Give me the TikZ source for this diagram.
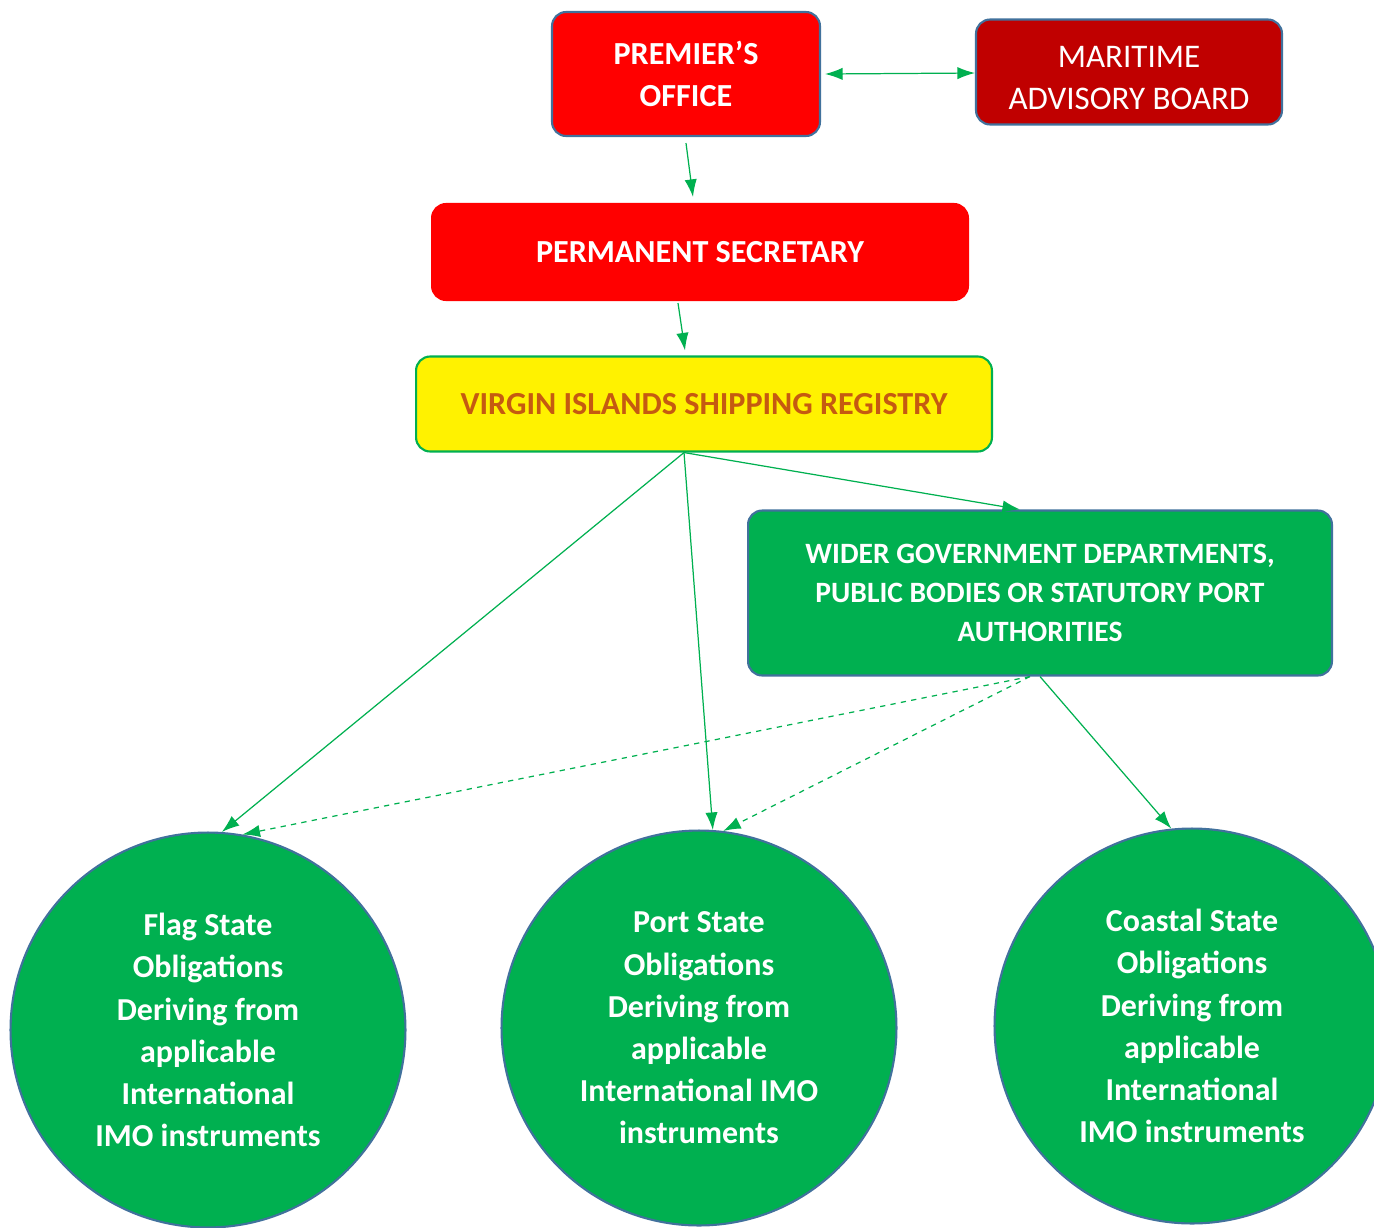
\documentclass[tikz,border=0pt]{standalone}
\usepackage{fontspec}
\setmainfont{Carlito}
\usetikzlibrary{arrows.meta,calc}
\definecolor{boxred}{HTML}{FF0000}
\definecolor{boxdarkred}{HTML}{C00000}
\definecolor{boxgreen}{HTML}{00B050}
\definecolor{edgeblue}{HTML}{41719C}
\definecolor{registrytext}{HTML}{C55A11}

\begin{document}
\begin{tikzpicture}[x=0.02cm,y=-0.02cm,>={Latex[length=10pt,width=7pt]},
  box/.style={rounded corners=8pt,draw=edgeblue,line width=1.2pt,align=center,text=white,
    font=\fontsize{18.3}{24}\selectfont\bfseries},
  obligation/.style={circle,fill=boxgreen,draw=edgeblue,line width=1.2pt,minimum size=7.9cm,
    align=center,text=white,font=\fontsize{18.2}{24}\selectfont\bfseries},
  link/.style={boxgreen,line width=0.7pt}]
  \useasboundingbox (0,0) rectangle (1374,1228);

  % top of the chain
  \node[box,fill=boxred,minimum width=5.36cm,minimum height=2.48cm] (po) at (686,74) {PREMIER’S\\OFFICE};
  \node[box,fill=boxdarkred,minimum width=6.12cm,minimum height=2.1cm,font=\fontsize{18.8}{24}\selectfont] (mab) at (1129,72)
    {\rule{0pt}{19pt}MARITIME\\ADVISORY BOARD};
  \node[box,fill=boxred,draw=boxred,minimum width=10.72cm,minimum height=1.92cm] (ps) at (700,252) {PERMANENT SECRETARY};
  \node[box,fill=yellow,draw=boxgreen,text=registrytext,minimum width=11.52cm,minimum height=1.9cm] (visr) at (704,404) {VIRGIN ISLANDS SHIPPING REGISTRY};
  \node[box,fill=boxgreen,minimum width=11.68cm,minimum height=3.3cm,font=\fontsize{16.8}{22}\selectfont\bfseries] (wider) at (1040,593)
    {WIDER GOVERNMENT DEPARTMENTS,\\PUBLIC BODIES OR STATUTORY PORT\\AUTHORITIES};

  % obligations
  \node[obligation] (flag) at (208,1030) {Flag State\\Obligations\\Deriving from\\applicable\\International\\IMO instruments};
  \node[obligation] (port) at (699,1028) {Port State\\Obligations\\Deriving from\\applicable\\International IMO\\instruments};
  \node[obligation] (coastal) at (1192,1026) {Coastal State\\Obligations\\Deriving from\\applicable\\International\\IMO instruments};

  \coordinate (visr out) at ($(visr.south)+(-20,0)$);
  \coordinate (wider out) at ($(wider.south)+(-10,0)$);

  \draw[link,<->] ($(po.east)+(4,0)$) -- ($(mab.west)+(0,1)$);
  \draw[link,->] ($(po.south)+(0,6)$) -- ($(ps.north)+(-7,-6)$);
  \draw[link,->] ($(ps.south)+(-22,2)$) -- ($(visr.north)+(-19,-5)$);
  \draw[link,->] (visr out) -- (flag.86);
  \draw[link,->] (visr out) -- (port.86);
  \draw[link,->] (visr out) -- ($(wider.north)+(-20,0)$);
  \draw[link,->] (wider.south) -- (coastal.96);
  \foreach \t/\a in {flag/80,port/83}
    \draw[link,dashed,->] (wider out) -- (\t.\a);
\end{tikzpicture}
\end{document}
